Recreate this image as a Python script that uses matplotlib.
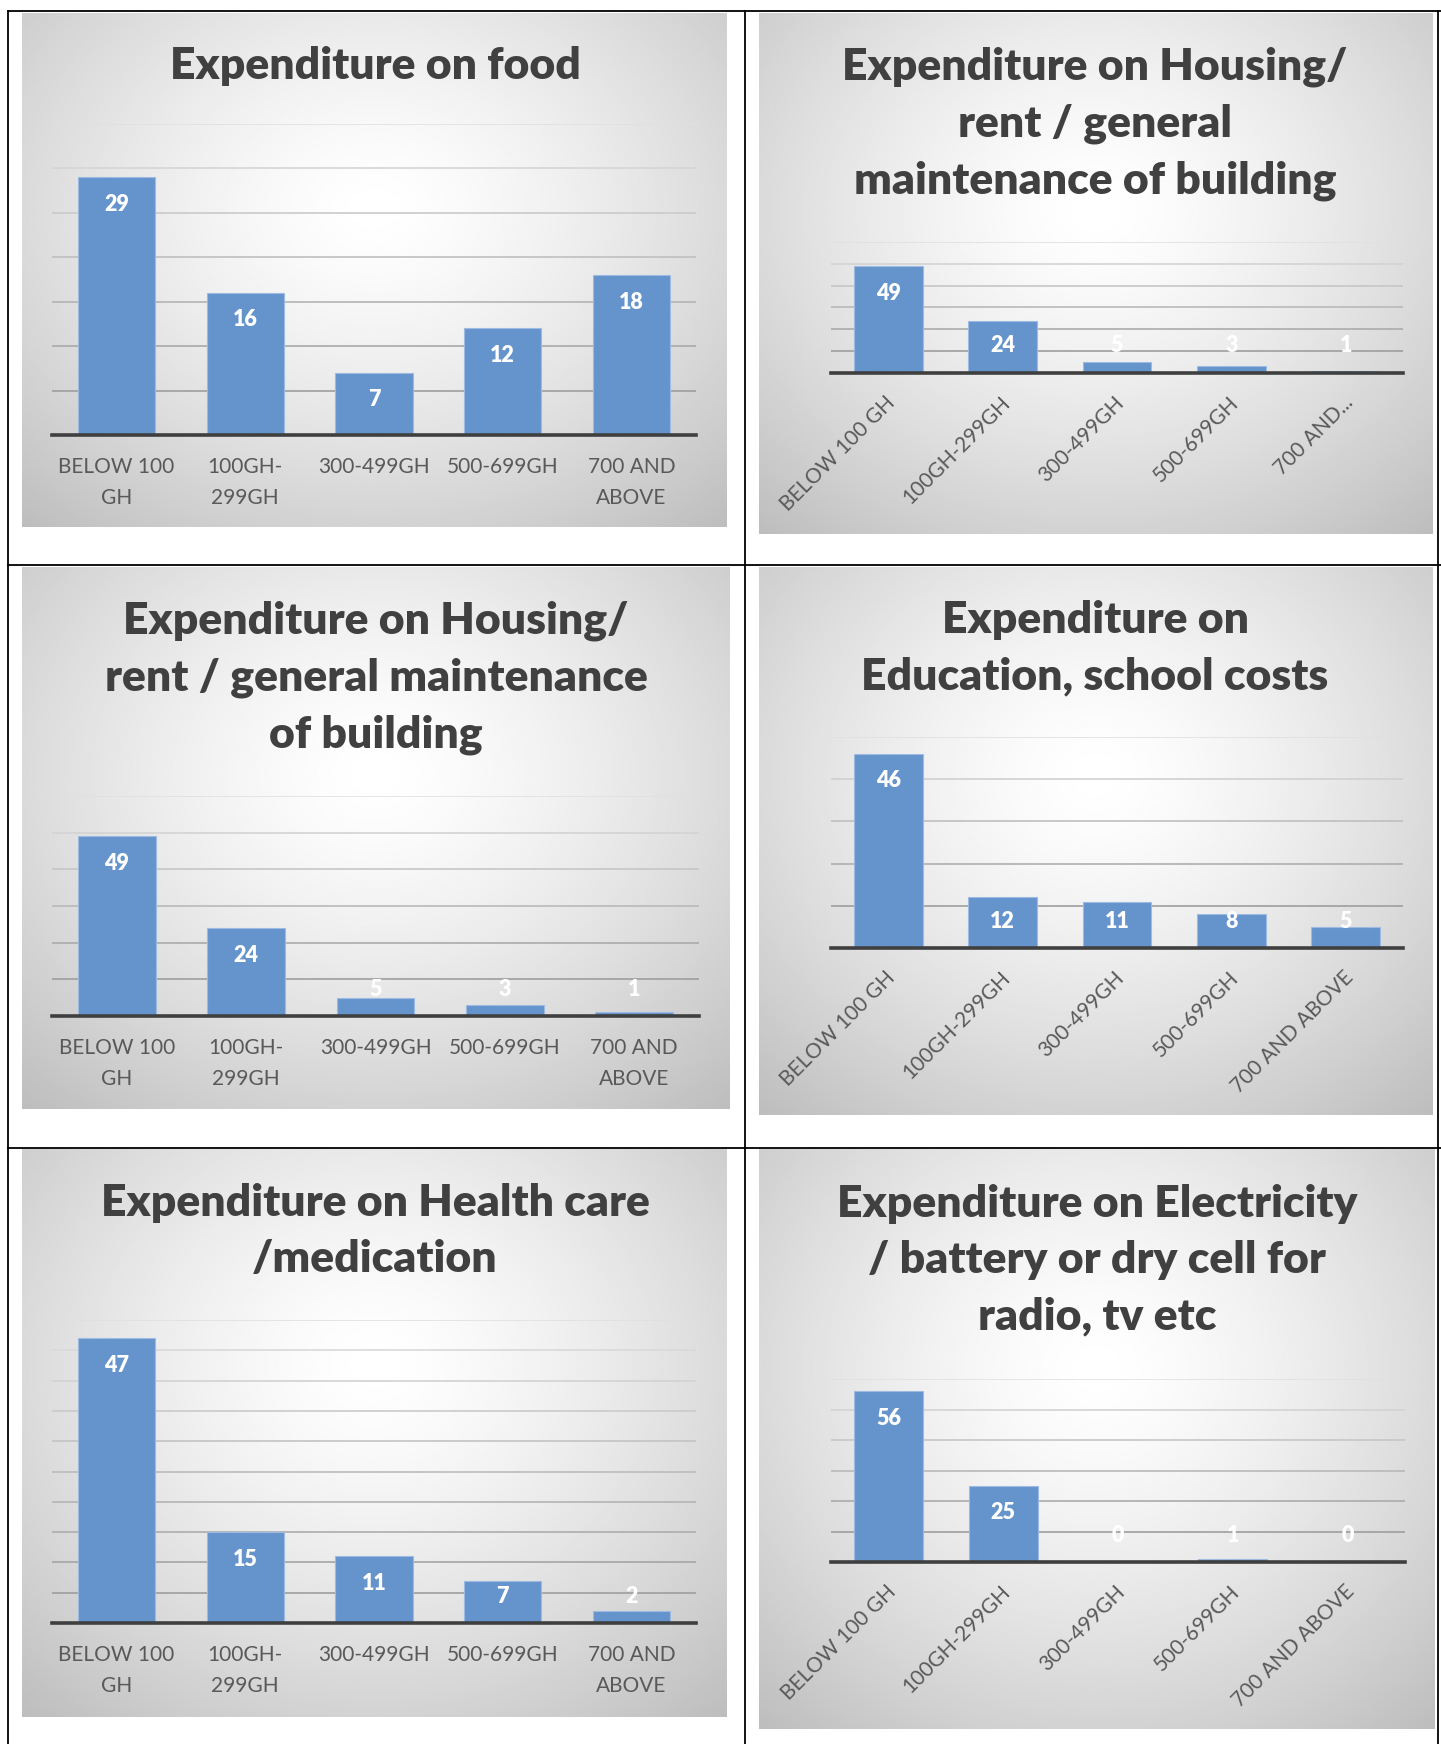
import numpy as np
import matplotlib.pyplot as plt
from matplotlib.lines import Line2D
from matplotlib.transforms import ScaledTranslation

# household expenditure by income band (number of respondents)
bands_wrapped = ['BELOW 100\nGH', '100GH-\n299GH', '300-499GH', '500-699GH', '700 AND\nABOVE']
bands_rot = ['BELOW 100 GH', '100GH-299GH', '300-499GH', '500-699GH', '700 AND ABOVE']
bands_rot_short = ['BELOW 100 GH', '100GH-299GH', '300-499GH', '500-699GH', '700 AND...']

food = [29, 16, 7, 12, 18]
housing = [49, 24, 5, 3, 1]
education = [46, 12, 11, 8, 5]
health = [47, 15, 11, 7, 2]
electricity = [56, 25, 0, 1, 0]

W, H = 1441, 1744
DPI = 100
FONT = 'Lato'
BAR = '#6593CC'
TITLE_C = '#404040'
TICK_C = '#595959'


def box(x0, y0, x1, y1):
    """pixel box (y measured from top) -> figure fraction rect"""
    return [x0 / W, 1 - y1 / H, (x1 - x0) / W, (y1 - y0) / H]


def background(fig, rect):
    bg = fig.add_axes(box(*rect), zorder=0)
    yy, xx = np.mgrid[0:1:300j, 0:1:300j]
    r = np.sqrt(((xx - 0.5) / 0.72) ** 2 + ((yy - 0.38) / 0.78) ** 2)
    img = 1 - 0.24 * np.clip(r, 0, 1.1) ** 1.4
    bg.imshow(img, cmap='gray', vmin=0, vmax=1, extent=[0, 1, 0, 1],
              aspect='auto', origin='upper', interpolation='bilinear')
    bg.set_axis_off()


def panel(fig, bg_rect, plot_rect, title, title_xy, values, labels, ymax, step, rotated):
    background(fig, bg_rect)
    ax = fig.add_axes(box(*plot_rect), zorder=1)
    ax.set_facecolor('none')
    x = np.arange(len(values))
    ax.bar(x, values, width=0.6, color=BAR, edgecolor='#9dbbe2', linewidth=0.8, zorder=3)
    ax.set_xlim(-0.5, len(values) - 0.5)
    ax.set_ylim(0, ymax)

    # gridlines, lighter towards the top
    levels = np.arange(step, ymax + step / 2, step)
    for k, lv in enumerate(levels):
        g = 0.62 + 0.26 * k / max(len(levels) - 1, 1)
        ax.axhline(lv, color=str(g), lw=1.2, zorder=1)

    for s in ['top', 'left', 'right']:
        ax.spines[s].set_visible(False)
    ax.spines['bottom'].set_color('#3f3f3f')
    ax.spines['bottom'].set_linewidth(2.6)
    ax.spines['bottom'].set_zorder(4)
    ax.set_yticks([])
    ax.set_xticks(x)

    if rotated:
        ax.set_xticklabels(labels, rotation=45, ha='right', va='center',
                           rotation_mode='anchor', fontsize=15,
                           color=TICK_C, family=FONT)
        ax.tick_params(axis='x', length=0, pad=19)
        for t in ax.get_xticklabels():
            t.set_transform(t.get_transform() + ScaledTranslation(0.04, 0, fig.dpi_scale_trans))
    else:
        ax.set_xticklabels(labels, fontsize=15, color=TICK_C, family=FONT,
                           linespacing=1.65)
        ax.tick_params(axis='x', length=0, pad=16)

    # data labels: inside the top of the bar, lifted above short bars
    plot_h = plot_rect[3] - plot_rect[1]
    off = 27 / plot_h * ymax
    for xi, v in zip(x, values):
        ax.text(xi, max(v - off, off), str(v), ha='center', va='center',
                color='white', fontsize=15.5, fontweight='heavy', family=FONT, zorder=5)

    fig.text(title_xy[0] / W, 1 - title_xy[1] / H, title, ha='center', va='center',
             fontsize=32, fontweight='heavy', color=TITLE_C, family=FONT,
             linespacing=1.5)


fig = plt.figure(figsize=(W / DPI, H / DPI), dpi=DPI)
fig.patch.set_facecolor('white')

panel(fig, (22, 13, 727, 527), (52, 124, 696, 435), 'Expenditure on food',
      (375, 66), food, bands_wrapped, 35, 5, False)
panel(fig, (759, 13, 1433, 534), (831, 242, 1403, 373),
      'Expenditure on Housing/\nrent / general\nmaintenance of building',
      (1095, 124), housing, bands_rot_short, 60, 10, True)
panel(fig, (22, 567, 730, 1109), (52, 796, 699, 1016),
      'Expenditure on Housing/\nrent / general maintenance\nof building',
      (376, 678), housing, bands_wrapped, 60, 10, False)
panel(fig, (759, 567, 1433, 1115), (831, 737, 1403, 948),
      'Expenditure on\nEducation, school costs',
      (1095, 648), education, bands_rot, 50, 10, True)
panel(fig, (22, 1149, 727, 1717), (52, 1320, 696, 1623),
      'Expenditure on Health care\n/medication',
      (375, 1231), health, bands_wrapped, 50, 5, False)
panel(fig, (759, 1149, 1435, 1729), (831, 1379, 1405, 1562),
      'Expenditure on Electricity\n/ battery or dry cell for\nradio, tv etc',
      (1097, 1260), electricity, bands_rot, 60, 10, True)

# table rules around the charts
def rule(x0, y0, x1, y1):
    fig.add_artist(Line2D([x0 / W, x1 / W], [1 - y0 / H, 1 - y1 / H],
                          color='black', lw=1.3, zorder=10))

rule(8, 11, W, 11)
rule(8, 565, W, 565)
rule(8, 1148, W, 1148)
rule(8, 11, 8, H)
rule(745, 11, 745, H)
rule(1438, 11, 1438, H)

fig.savefig('out.png', dpi=DPI)
